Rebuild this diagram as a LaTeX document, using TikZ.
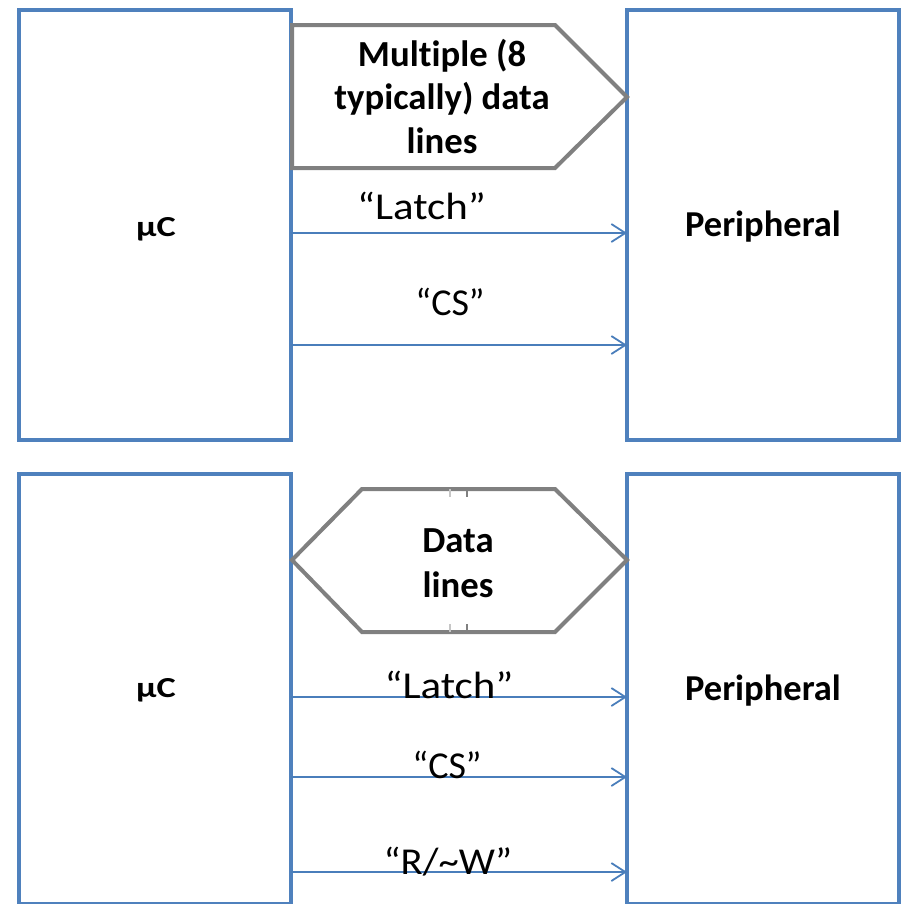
\documentclass[tikz,border=0pt]{standalone}
\usepackage{fontspec}
\setmainfont{Carlito}[Ligatures={NoCommon}]
\usetikzlibrary{arrows.meta}
\definecolor{boxblue}{RGB}{79,129,189}
\definecolor{arrblue}{RGB}{74,126,187}
\definecolor{shapegray}{RGB}{128,128,128}
\begin{document}
\begin{tikzpicture}[x=1pt,y=-1pt,
  blockbox/.style={draw=boxblue, line width=4pt, minimum width=271.5pt, minimum height=430.5pt, inner sep=0pt, outer sep=0pt},
  busshape/.style={draw=shapegray, line width=4pt, line join=miter, fill=white},
  sig/.style={draw=arrblue, line width=1.8pt, -{Straight Barb[length=14pt,width=18pt,line width=1.8pt]}},
  boxlabel/.style={font=\bfseries\fontsize{36.5}{44}\selectfont, anchor=base, inner sep=0pt},
  mculabel/.style={font=\bfseries\fontsize{29}{35}\selectfont, anchor=base, inner sep=0pt},
  siglabel/.style={font=\fontsize{38}{46}\selectfont, anchor=base, inner sep=0pt},
  buslabel/.style={font=\bfseries\fontsize{36.7}{43.5}\selectfont, align=center, anchor=base, inner sep=0pt},
  tick/.style={line width=2pt}
]
\useasboundingbox (0,0) rectangle (905,903);
\clip (0,0) rectangle (905,903);
% ---------- top diagram ----------
\node[blockbox] (mcu1) at (154.75,224.75) {};
\node[blockbox] (per1) at (762.75,224.75) {};
\path[busshape] (292,25) -- (555,25) -- (627,97) -- (555,168) -- (292,168) -- cycle;
\node[buslabel] (bus1) at (442,153) {Multiple (8\\typically) data\\lines};
\node[mculabel] (mcutxt1) at (156,236.5) {\scalebox{1.25}[1]{µC}};
\node[boxlabel] (pertxt1) at (763,236) {Peripheral};
\draw[sig] ([yshift=-8.25pt]mcu1.east) -- ([yshift=-8.25pt]per1.west);
\draw[sig] ([yshift=-120.25pt]mcu1.east) -- ([yshift=-120.25pt]per1.west);
\node[siglabel] (lat1) at (421.5,219) {\scalebox{1.13}[1]{“Latch”}};
\node[siglabel] (cs1) at (450,315) {“CS”};
% ---------- bottom diagram ----------
\node[blockbox] (mcu2) at (154.75,688.75) {};
\node[blockbox] (per2) at (762.75,688.75) {};
\path[busshape] (292,560) -- (362,489) -- (555,489) -- (627,560) -- (555,632) -- (362,632) -- cycle;
\draw[tick, draw=gray!45] (450,489) -- (450,497);
\draw[tick, draw=shapegray] (467,489) -- (467,497);
\draw[tick, draw=gray!45] (450,624) -- (450,632);
\draw[tick, draw=shapegray] (467,624) -- (467,632);
\node[buslabel, font=\bfseries\fontsize{36.7}{45}\selectfont] (bus2) at (458,597) {Data\\lines};
\node[mculabel] (mcutxt2) at (156,697.5) {\scalebox{1.25}[1]{µC}};
\node[boxlabel] (pertxt2) at (763,700) {Peripheral};
\draw[sig] ([yshift=-8.25pt]mcu2.east) -- ([yshift=-8.25pt]per2.west);
\draw[sig] ([yshift=-88.25pt]mcu2.east) -- ([yshift=-88.25pt]per2.west);
\draw[sig] ([yshift=-183.25pt]mcu2.east) -- ([yshift=-183.25pt]per2.west);
\node[siglabel] (lat2) at (449,698) {\scalebox{1.13}[1]{“Latch”}};
\node[siglabel] (cs2) at (447,778) {“CS”};
\node[siglabel] (rw2) at (448,874) {\scalebox{1.07}[1]{“R/\textasciitilde W”}};
\end{tikzpicture}
\end{document}
